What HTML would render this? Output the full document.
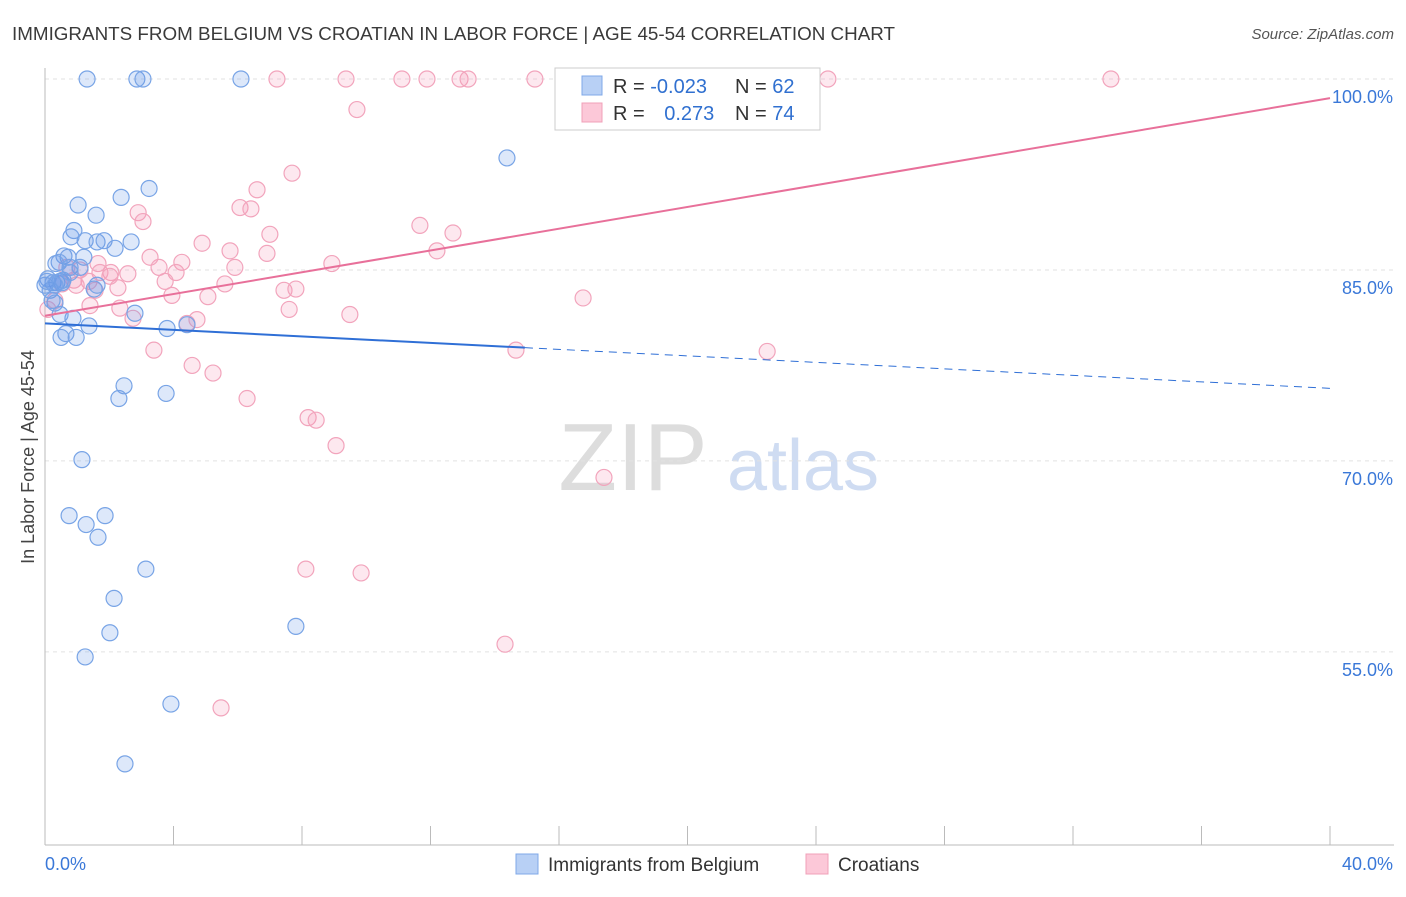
<!DOCTYPE html>
<html><head><meta charset="utf-8"><style>
body{margin:0;background:#fff;font-family:"Liberation Sans",sans-serif;}
svg text{font-family:"Liberation Sans",sans-serif;}
</style></head><body>
<svg id="chart" width="1406" height="892" xmlns="http://www.w3.org/2000/svg">
<text x="12" y="40" font-size="18" fill="#3a3a3a" textLength="883" lengthAdjust="spacingAndGlyphs">IMMIGRANTS FROM BELGIUM VS CROATIAN IN LABOR FORCE | AGE 45-54 CORRELATION CHART</text>
<text x="1394" y="39" font-size="15" fill="#555" text-anchor="end" font-style="italic">Source: ZipAtlas.com</text>
<text transform="translate(34,457) rotate(-90)" font-size="18" fill="#444" text-anchor="middle">In Labor Force | Age 45-54</text>
<g>
<text x="633" y="490" font-size="96" fill="#ddd" text-anchor="middle" font-family="Liberation Serif,serif">ZIP</text>
<text x="803" y="490" font-size="72" fill="#cfdcf2" text-anchor="middle">atlas</text>
</g>
<g id="grid"></g><g id="axes"></g><g id="pts"></g><g id="lines"></g>
<g>
<rect x="555" y="68" width="265" height="62" fill="#fff" stroke="#ccc"/>
<rect x="582" y="76" width="20" height="19" fill="#b8d0f5" stroke="#7fa8e8"/>
<rect x="582" y="103" width="20" height="19" fill="#fcc8d8" stroke="#f0a0b8"/>
<text x="613" y="93" font-size="20" fill="#333">R = <tspan fill="#3070d0">-0.023</tspan></text>
<text x="735" y="93" font-size="20" fill="#333">N = <tspan fill="#3070d0">62</tspan></text>
<text x="613" y="120" font-size="20" fill="#333">R = <tspan fill="#3070d0" dx="14">0.273</tspan></text>
<text x="735" y="120" font-size="20" fill="#333">N = <tspan fill="#3070d0">74</tspan></text>
</g>
<g>
<rect x="516" y="854" width="22" height="20" fill="#b8d0f5" stroke="#7fa8e8"/>
<text x="548" y="871" font-size="19" fill="#333">Immigrants from Belgium</text>
<rect x="806" y="854" width="22" height="20" fill="#fcc8d8" stroke="#f0a0b8"/>
<text x="838" y="871" font-size="19" fill="#333">Croatians</text>
</g>
</svg>
<script>
const xTicks=[0,40];
const yTicks=[55,70,85,100];
const blueX=[1.31,2.86,3.05,6.10,14.38,3.24,2.37,1.03,1.59,0.90,1.25,0.81,1.62,1.84,2.68,2.18,0.59,0.72,1.21,0.44,0.78,1.09,0.09,0.25,0.37,0.53,0.16,1.53,1.62,0.31,0.87,0.47,2.80,1.37,3.80,4.42,0.65,0.50,0.97,2.46,2.30,3.77,1.15,0.75,1.87,1.28,1.65,3.14,2.15,7.81,2.02,1.25,3.92,2.49,0,0.06,0.47,0.22,0.34,0.56,0.78,0.31];
const blueY=[100,100,100,100,93.8,91.4,90.7,90.1,89.3,88.1,87.3,87.6,87.2,87.3,87.2,86.7,86.1,86.0,86.0,85.6,85.2,85.2,84.3,84.0,84.0,84.0,83.4,83.5,83.8,82.4,81.2,81.5,81.6,80.6,80.4,80.7,80.0,79.7,79.7,75.9,74.9,75.3,70.1,65.7,65.7,65.0,64.0,61.5,59.2,57.0,56.5,54.6,50.9,46.2,83.8,84.1,84.1,82.6,85.5,84.2,84.8,83.8];
const pinkX=[7.22,9.37,11.11,11.89,12.92,13.17,15.25,17.99,22.26,24.37,33.18,9.71,7.69,6.60,6.07,6.41,2.90,3.05,11.67,7.00,12.70,4.89,5.76,12.20,6.91,3.27,4.26,3.55,5.91,8.93,4.08,1.65,2.05,2.58,0.90,1.37,2.27,3.74,5.60,7.44,7.81,3.95,5.07,16.75,2.33,1.40,7.60,2.74,9.49,4.42,4.73,3.39,14.66,22.48,4.58,5.23,6.29,8.19,8.44,9.06,17.40,8.12,9.84,14.32,5.48,0.09,0.31,0.53,1.09,1.71,0.68,0.97,2.02,1.56];
const pinkY=[100,100,100,100,100,100,100,100,100,100,100,97.6,92.6,91.3,89.9,89.8,89.5,88.8,88.5,87.8,87.9,87.1,86.5,86.5,86.3,86.0,85.6,85.2,85.2,85.5,84.8,85.5,84.8,84.7,84.2,84.1,83.6,84.1,83.9,83.4,83.5,83.0,82.9,82.8,82.0,82.2,81.9,81.2,81.5,80.8,81.1,78.7,78.7,78.6,77.5,76.9,74.9,73.4,73.2,71.2,68.7,61.5,61.2,55.6,50.6,81.9,82.6,83.9,85.0,84.8,85.2,83.8,84.5,83.4];
const blueTrend=[80.8,75.7];
const blueSolidEnd=14.94;
const pinkTrend=[81.4,98.5];
const NS="http://www.w3.org/2000/svg";
const X=v=>45+v/40*1285;
const Y=v=>79+(100-v)*12.73;
function mk(tag,attrs,parent){const e=document.createElementNS(NS,tag);for(const k in attrs)e.setAttribute(k,attrs[k]);parent.appendChild(e);return e;}
const grid=document.getElementById('grid'),axes=document.getElementById('axes'),pts=document.getElementById('pts'),lines=document.getElementById('lines');
yTicks.forEach(t=>{
 const l=mk('line',{x1:45,x2:1394,y1:Y(t),y2:Y(t),stroke:'#e2e2e2','stroke-dasharray':'4,4'},grid);
 
 
 const tx=mk('text',{x:1393,y:Y(t)+24,'font-size':18,fill:'#3a78d8','text-anchor':'end'},axes);
 tx.textContent=t.toFixed(1)+'%';
 
 
});
const ax=mk('line',{x1:45,x2:1394,y1:845,y2:845,stroke:'#bbb'},axes);


const ay=mk('line',{x1:45,x2:45,y1:68,y2:845,stroke:'#bbb'},axes);


for(let i=0;i<=10;i++){const tk=mk('line',{x1:X(i*4),x2:X(i*4),y1:826,y2:845,stroke:'#bbb'},axes);
 
 }
xTicks.forEach((t,i)=>{const tx=mk('text',{x:i?1393:45,y:870,'font-size':18,fill:'#3a78d8','text-anchor':i?'end':'start'},axes);
 tx.textContent=t.toFixed(1)+'%';
 
 });
function dots(xs,ys,fill,stroke,name){xs.forEach((v,i)=>{const c=mk('circle',{cx:X(v),cy:Y(ys[i]),r:8,fill:fill,stroke:stroke,'stroke-width':1.2},pts);
 
 });}
dots(pinkX,pinkY,'rgba(245,150,180,0.22)','#f2a4bc','croatian-point');
dots(blueX,blueY,'rgba(100,150,230,0.22)','#78a4e6','belgium-point');
const by=x=>blueTrend[0]+(blueTrend[1]-blueTrend[0])*x/40;
const b1=mk('line',{x1:X(0),y1:Y(by(0)),x2:X(blueSolidEnd),y2:Y(by(blueSolidEnd)),stroke:'#2f6fd6','stroke-width':2},lines);


const b2=mk('line',{x1:X(blueSolidEnd),y1:Y(by(blueSolidEnd)),x2:X(40),y2:Y(by(40)),stroke:'#2f6fd6','stroke-width':1,'stroke-dasharray':'8,6'},lines);


const p1=mk('line',{x1:X(0),y1:Y(pinkTrend[0]),x2:X(40),y2:Y(pinkTrend[1]),stroke:'#e8709a','stroke-width':2},lines);


</script>
</body></html>
